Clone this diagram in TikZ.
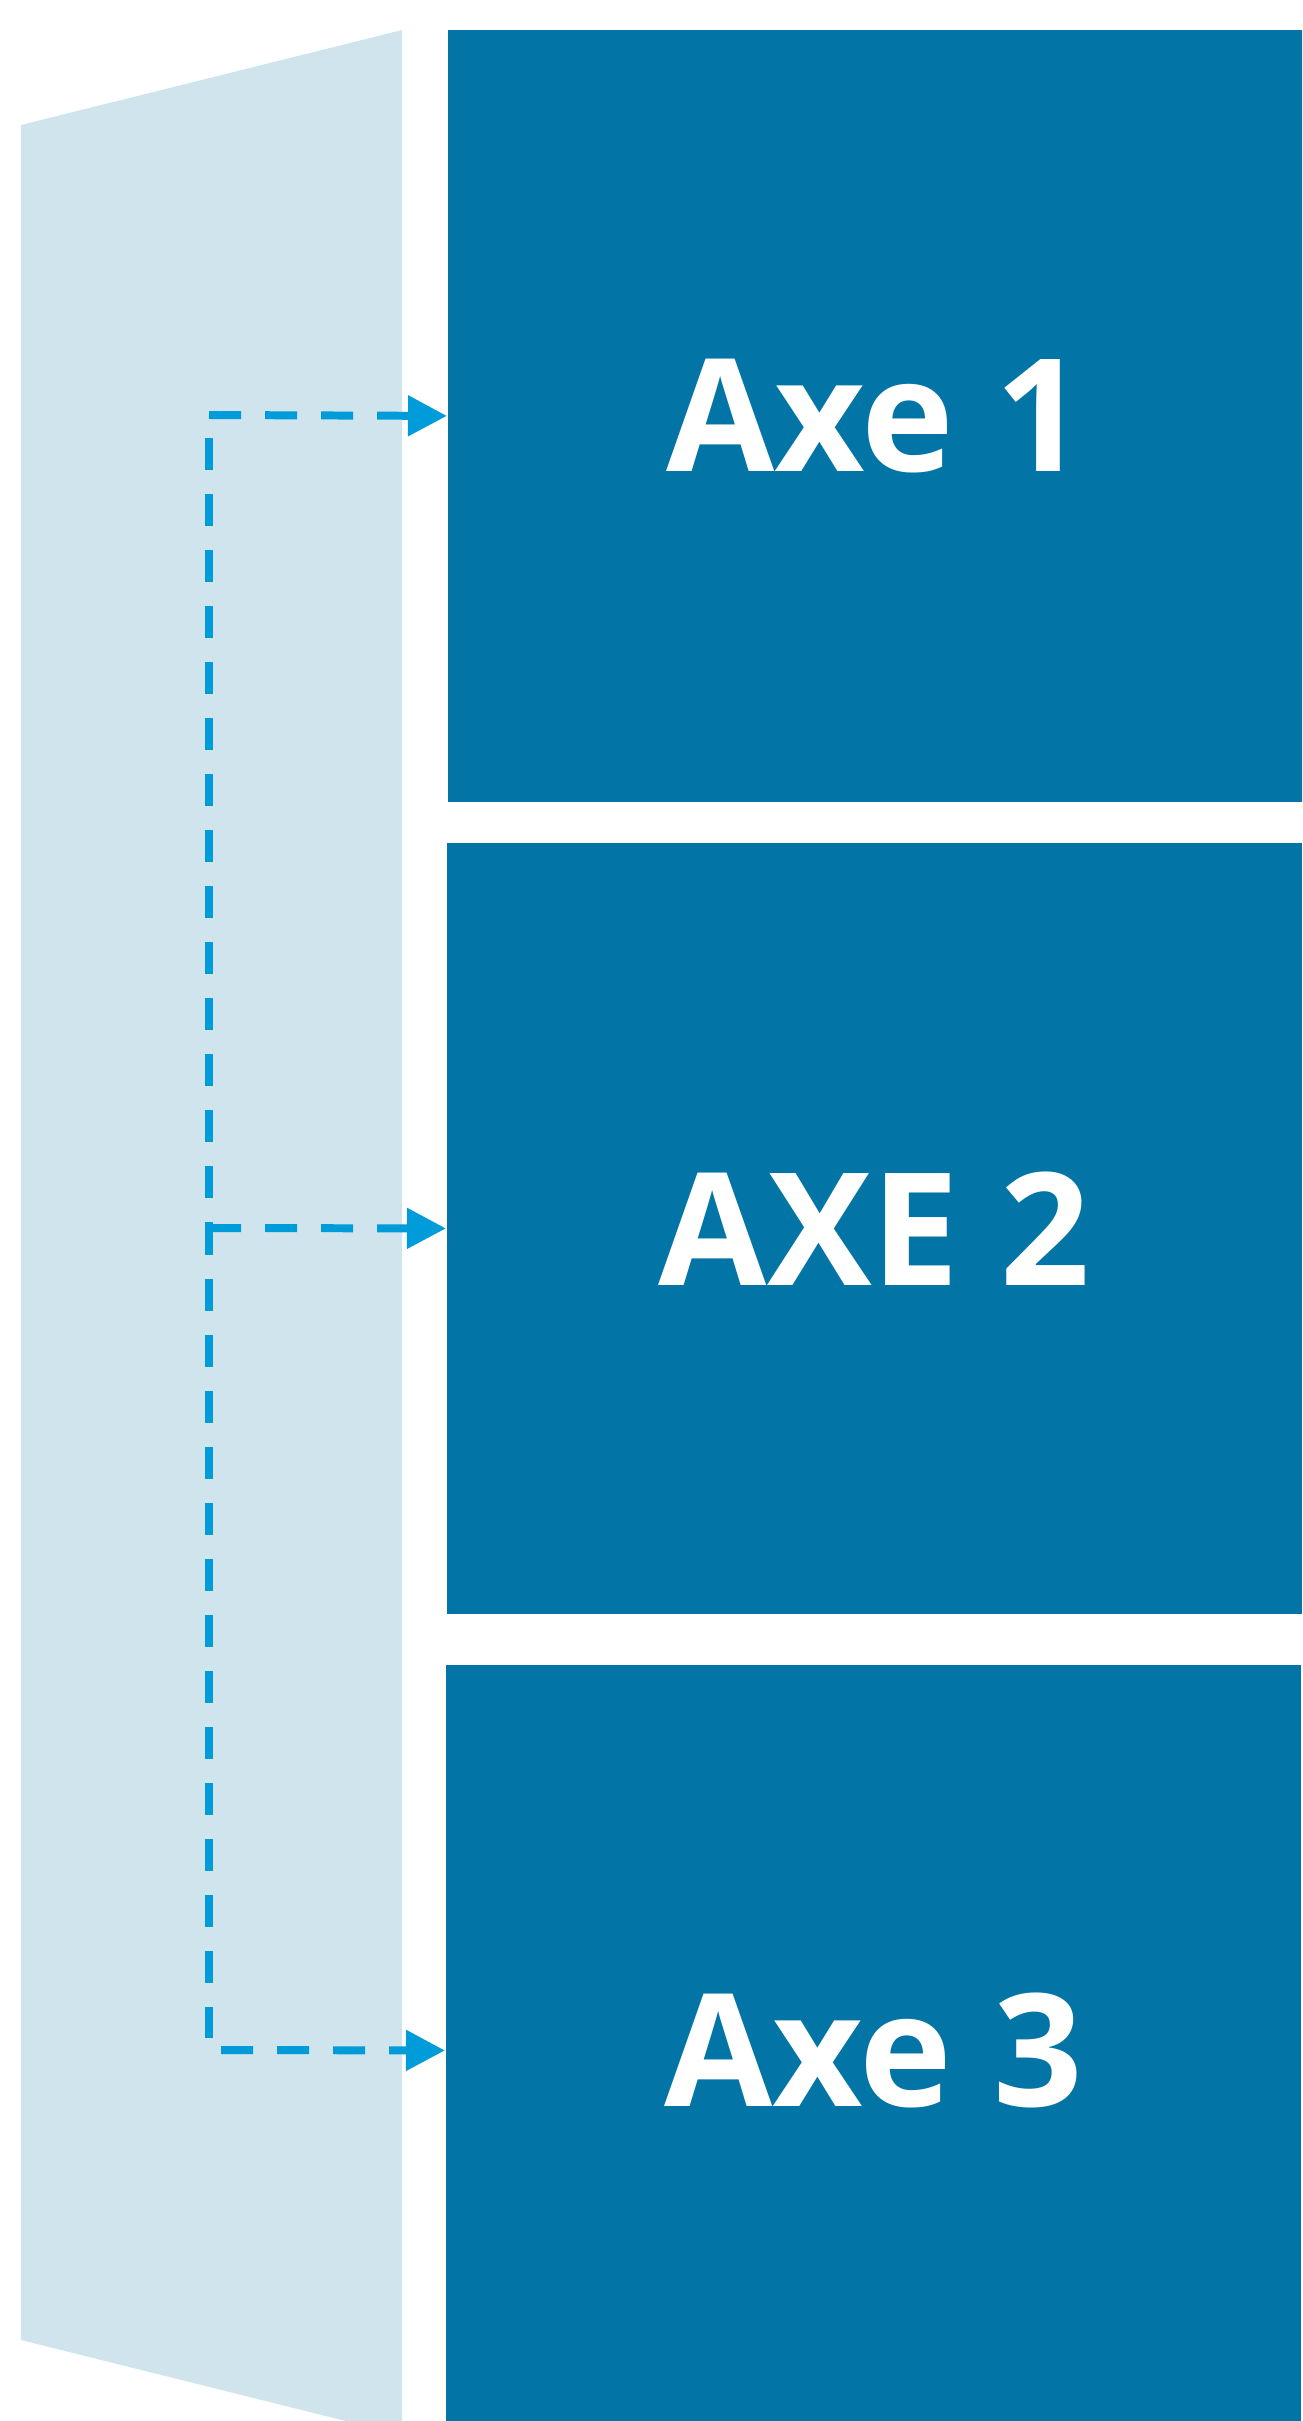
\documentclass[tikz,border=0pt]{standalone}
\usepackage{fontspec}
\setsansfont{Open Sans}
\usetikzlibrary{arrows.meta,positioning}
\definecolor{axeblue}{RGB}{2,117,166}
\definecolor{panelblue}{RGB}{207,228,237}
\definecolor{linkblue}{RGB}{0,156,218}
\tikzset{
  axebox/.style={rectangle, fill=axeblue, anchor=north west, inner sep=0pt,
                 minimum width=8.55cm, minimum height=7.72cm,
                 text=white, font=\sffamily\bfseries\fontsize{44.6pt}{50pt}\selectfont},
  axepanel/.style={fill=panelblue},
  axedash/.style={linkblue, line width=2.27pt, dash pattern=on 0.32cm off 0.24cm},
  axelink/.style={axedash, -{Triangle[length=0.39cm, width=0.39cm]}},
}
\begin{document}
\begin{tikzpicture}[x=0.01cm, y=-0.01cm]
  \useasboundingbox (0,0) rectangle (1302,2421);
  \clip (0,0) rectangle (1302,2421);
  % side panel
  \fill[axepanel] (21,125) -- (402,30) -- (402,2435) -- (21,2340) -- cycle;
  % axes
  \node[axebox] (axe1) at (447,29)   {Axe 1};
  \node[axebox, minimum height=7.71cm] (axe2) at (446,842)  {AXE 2};
  \node[axebox, minimum height=7.71cm] (axe3) at (445,1664) {Axe 3};
  % links
  \coordinate (c1) at (209,415);
  \coordinate (c2) at (209,1228);
  \coordinate (c3) at (209,2050);
  \coordinate (vtop) at (209,438);
  \coordinate (vbot) at (209,2038);
  \draw[axedash] (vtop) -- (vbot);
  \draw[axelink] (c1) -- (axe1.west);
  \draw[axelink] (c2) -- (axe2.west);
  \draw[axelink, dash phase=-0.12cm] (c3) -- (axe3.west);
\end{tikzpicture}
\end{document}
